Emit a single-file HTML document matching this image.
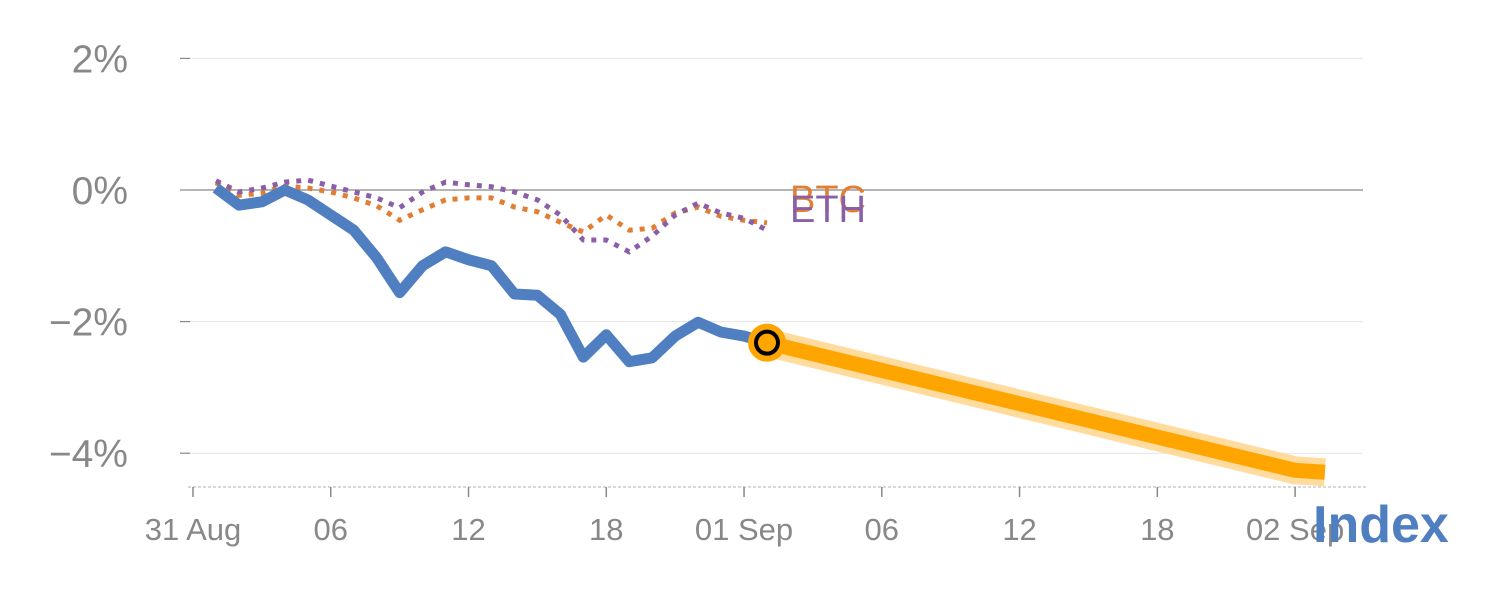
<!DOCTYPE html>
<html><head><meta charset="utf-8"><style>
body{margin:0;background:#fff;}
svg{display:block;font-family:"Liberation Sans",Arial,sans-serif;}
</style></head><body>
<svg id="c" width="1500" height="600"></svg>
<script>
const hours = [1.0,2.0,3.0,4.0,5.0,6.0,7.0,8.0,9.0,10.0,11.0,12.0,13.0,14.0,15.0,16.0,17.0,18.0,19.0,20.0,21.0,22.0,23.0,24.0,25.0];
const indexVals = [0.03,-0.23,-0.18,0.00,-0.15,-0.38,-0.61,-1.03,-1.56,-1.15,-0.94,-1.06,-1.15,-1.58,-1.60,-1.89,-2.54,-2.20,-2.61,-2.55,-2.22,-2.01,-2.16,-2.22,-2.32];
const btcVals = [0.11,-0.08,-0.05,0.06,0.03,-0.03,-0.12,-0.24,-0.46,-0.30,-0.15,-0.12,-0.12,-0.26,-0.33,-0.49,-0.64,-0.38,-0.61,-0.58,-0.35,-0.26,-0.40,-0.46,-0.50];
const ethVals = [0.14,-0.03,0.03,0.12,0.15,0.06,-0.03,-0.12,-0.27,-0.03,0.12,0.08,0.05,-0.03,-0.15,-0.38,-0.76,-0.76,-0.94,-0.70,-0.38,-0.20,-0.35,-0.43,-0.61];
const fcHours = [25.0,48,49.3];
const fcVals = [-2.32,-4.26,-4.29];
const yTicks = [2,0,-2,-4];
const yTickLabels = ["2%","0%","\u22122%","\u22124%"];
const xTicks = [0,6,12,18,24,30,36,42,48];
const xTickLabels = ["31 Aug","06","12","18","01 Sep","06","12","18","02 Sep"];

const NS="http://www.w3.org/2000/svg", svg=document.getElementById('c');
const X=h=>193+h*22.96, Y=v=>190-v*65.8;
function mk(t,a,p){const e=document.createElementNS(NS,t);for(const k in a)e.setAttribute(k,a[k]);(p||svg).appendChild(e);return e;}
yTicks.forEach((v,i)=>{
  const g=mk('line',{x1:190,x2:1363,y1:Y(v),y2:Y(v),stroke:v===0?'#888':'#e4e4e4','stroke-width':v===0?1.2:1});
  
  
  mk('line',{x1:180,x2:190,y1:Y(v),y2:Y(v),stroke:'#888','stroke-width':1.2});
  const t=mk('text',{x:128,y:Y(v)+14,'text-anchor':'end','font-size':39,fill:'#888'});
  t.textContent=yTickLabels[i];
  
  
});
const ax=mk('line',{x1:188,x2:1368,y1:487,y2:487,stroke:'#ccc','stroke-dasharray':'3,2','stroke-width':1.5});


xTicks.forEach((h,i)=>{
  mk('line',{x1:X(h),x2:X(h),y1:487,y2:497,stroke:'#888','stroke-width':1.5});
  const t=mk('text',{x:X(h),y:540,'text-anchor':'middle','font-size':31,fill:'#888'});
  t.textContent=xTickLabels[i];
  
  
});
const pts=(hs,vs)=>hs.map((h,i)=>X(h)+','+Y(vs[i])).join(' ');
const fc1=mk('polyline',{points:pts(fcHours,fcVals),fill:'none',stroke:'#ffdb9e','stroke-width':28,'stroke-linejoin':'round'});


const fc2=mk('polyline',{points:pts(fcHours,fcVals),fill:'none',stroke:'#ffa500','stroke-width':15,'stroke-linejoin':'round'});


const b=mk('polyline',{points:pts(hours,btcVals),fill:'none',stroke:'#e07f33','stroke-width':5,'stroke-dasharray':'5,7'});


const e=mk('polyline',{points:pts(hours,ethVals),fill:'none',stroke:'#8a5fa8','stroke-width':5,'stroke-dasharray':'5,7'});


const ix=mk('polyline',{points:pts(hours,indexVals),fill:'none',stroke:'#4f7fc0','stroke-width':11,'stroke-linejoin':'round'});


const li=hours.length-1;
const m1=mk('circle',{cx:X(hours[li]),cy:Y(indexVals[li]),r:19,fill:'#ffa500'});


const m2=mk('circle',{cx:X(hours[li]),cy:Y(indexVals[li]),r:11,fill:'#ffa500',stroke:'#000','stroke-width':4});


const tb=mk('text',{x:790,y:212,'font-size':38,fill:'#e07f33'});tb.textContent='BTC';


const te=mk('text',{x:790,y:222,'font-size':38,fill:'#8a5fa8'});te.textContent='ETH';


const ti=mk('text',{x:1313,y:542,'font-size':52,'font-weight':'bold',fill:'#4f7fc0'});ti.textContent='Index';


</script>
</body></html>
